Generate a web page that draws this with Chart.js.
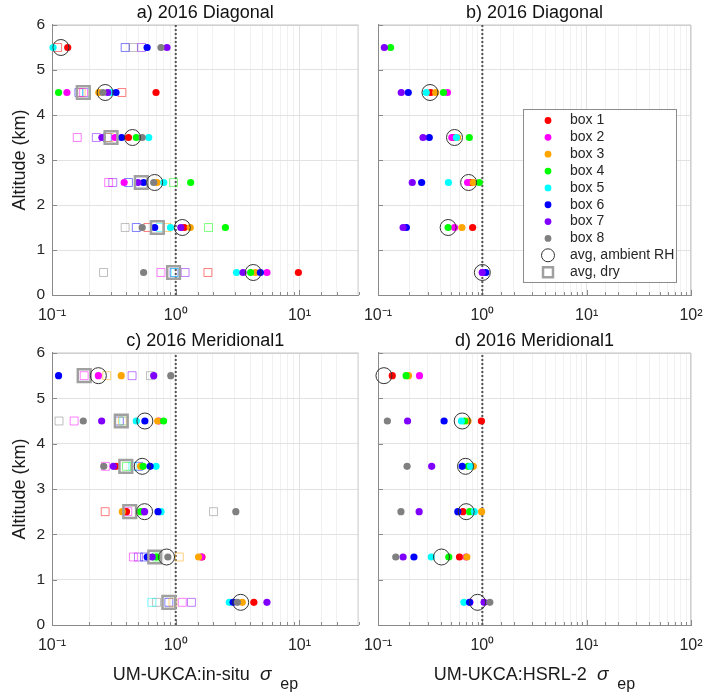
<!DOCTYPE html>
<html>
<head>
<meta charset="utf-8">
<script src="https://cdn.jsdelivr.net/npm/chart.js@4.4.1/dist/chart.umd.min.js"></script>
<style>
  body { margin: 0; background: #fff; overflow: hidden; }
  #wrap { position: relative; width: 705px; height: 696px; overflow: hidden; font-family: "Liberation Sans", Arial, sans-serif; color: #1a1a1a; }
  canvas { position: absolute; }
  .xlab { position: absolute; top: 662px; font-size: 18px; line-height: 24px; text-align: center; white-space: nowrap; }
  .sig { font-style: italic; font-size: 19px; margin-left: 10px; }
  .sub { font-size: 16px; position: relative; top: 9px; margin-left: 9px; }
</style>
</head>
<body>
<div id="wrap">
  <canvas id="pa" width="370" height="330" style="left:0;top:0"></canvas>
  <canvas id="pb" width="353" height="330" style="left:358px;top:0"></canvas>
  <canvas id="pc" width="370" height="332" style="left:0;top:328px"></canvas>
  <canvas id="pd" width="353" height="332" style="left:358px;top:328px"></canvas>
  <div class="xlab" style="left:50px;width:311px">UM-UKCA:in-situ<span class="sig">σ</span><span class="sub">ep</span></div>
  <div class="xlab" style="left:378px;width:313px">UM-UKCA:HSRL-2<span class="sig">σ</span><span class="sub">ep</span></div>
</div>
<script>
Chart.defaults.font.family = '"Liberation Sans", Arial, Helvetica, sans-serif';
Chart.defaults.color = '#262626';
Chart.defaults.animation = false;

const levels = [0.5, 1.5, 2.5, 3.5, 4.5, 5.5];
const boxLabels = ['box 1', 'box 2', 'box 3', 'box 4', 'box 5', 'box 6', 'box 7', 'box 8'];
const boxColors = ['#ff0000', '#ff00ff', '#ffa500', '#00ff00', '#00ffff', '#0000ff', '#8000ff', '#808080'];
const dryColors = ['rgba(255,0,0,0.5)', 'rgba(255,0,255,0.5)', 'rgba(255,165,0,0.5)', 'rgba(0,255,0,0.5)',
  'rgba(0,255,255,0.5)', 'rgba(0,0,255,0.5)', 'rgba(128,0,255,0.5)', 'rgba(128,128,128,0.5)'];
const avgLabels = ['avg, ambient RH', 'avg, dry'];
const expLabels = { '-1': '⁻¹', '0': '⁰', '1': '¹', '2': '²' };

// rows = box 1..8, columns = altitude levels 0.5 .. 5.5 km
// a) 2016 Diagonal, in-situ
const diagInsitu = [
  [9.8, 1.17, null, 0.415, 0.693, 0.134],
  [5.46, null, 0.383, 0.323, 0.132, null],
  [4.41, 1.31, 0.706, null, 0.239, null],
  [4.03, 2.52, 1.32, 0.48, 0.113, null],
  [3.10, 0.907, 0.80, 0.605, 0.30, 0.102],
  [4.83, 0.676, 0.55, 0.365, 0.329, 0.587],
  [3.50, 1.10, 0.495, 0.253, 0.282, 0.85],
  [0.55, 0.536, 0.664, 0.536, 0.258, 0.76],
];
const diagInsituDry = [
  [1.82, 0.595, null, null, 0.367, 0.111],
  [0.76, null, 0.287, 0.16, 0.18, null],
  [null, 0.85, null, 0.29, 0.172, null],
  [null, 1.84, 0.96, null, null, null],
  [0.99, 0.75, null, null, 0.19, null],
  [0.97, 0.48, 0.415, 0.28, 0.165, 0.39],
  [1.19, null, 0.31, 0.228, null, 0.53],
  [0.261, 0.39, null, null, null, 0.455],
];
const diagInsituAvg = [4.23, 1.13, 0.676, 0.447, 0.269, 0.118];
const diagInsituAvgDry = [0.96, 0.71, 0.527, 0.30, 0.179, null];

// b) 2016 Diagonal, HSRL-2
const diagHsrl = [
  [null, 0.807, 0.78, 0.525, 0.32, null],
  [1.0, 0.541, 0.722, 0.51, 0.463, null],
  [null, 0.637, 0.819, 0.578, 0.357, null],
  [null, 0.47, 0.935, 0.75, 0.424, 0.132],
  [null, null, 0.473, 0.565, 0.29, null],
  [1.08, 0.187, 0.262, 0.31, 0.195, null],
  [1.0, 0.174, 0.213, 0.27, 0.167, 0.115],
  [null, null, null, null, null, null],
];
const diagHsrlAvg = [1.0, 0.47, 0.739, 0.541, 0.315, null];

// c) 2016 Meridional1, in-situ
const meridInsitu = [
  [4.28, 1.63, 0.40, 0.329, null, null],
  [null, 1.61, 0.55, null, 0.73, 0.237],
  [3.45, 1.53, 0.37, 0.52, 0.715, 0.363],
  [null, 0.70, 0.52, 0.545, 0.798, null],
  [2.71, null, 0.76, 0.693, 0.48, null],
  [2.91, 0.588, 0.719, 0.621, 0.563, 0.113],
  [5.46, 0.645, 0.56, 0.313, 0.252, 0.664],
  [3.15, 0.864, 3.06, 0.262, 0.179, 0.912],
];
const meridInsituDry = [
  [null, null, 0.269, null, null, null],
  [1.13, 0.455, 0.41, 0.27, 0.151, 0.182],
  [0.95, 1.07, null, null, 0.37, 0.277],
  [null, 0.70, null, 0.40, null, null],
  [0.64, null, null, 0.45, 0.38, null],
  [0.88, 0.56, null, 0.50, 0.35, null],
  [1.34, 0.50, null, null, null, 0.444],
  [0.70, null, 2.02, null, 0.114, 0.625],
];
const meridInsituAvg = [3.35, 0.843, 0.56, 0.536, 0.563, 0.237];
const meridInsituAvgDry = [0.88, 0.677, 0.425, 0.395, 0.363, 0.182];

// d) 2016 Meridional1, HSRL-2
const meridHsrl = [
  [null, 0.604, 0.651, null, 0.98, 0.137],
  [0.76, 0.70, null, null, null, 0.25],
  [null, 0.71, 0.985, 0.82, 0.73, 0.196],
  [null, 0.477, 0.755, 0.73, 0.675, 0.186],
  [0.666, 0.324, 0.837, 0.77, 0.63, null],
  [0.755, 0.221, 0.582, 0.641, 0.43, null],
  [1.04, 0.174, 0.248, 0.327, 0.192, null],
  [1.18, 0.148, 0.166, 0.19, 0.123, null],
];
const meridHsrlAvg = [0.90, 0.406, 0.70, 0.69, 0.641, 0.114];

const isDecade = v => Math.abs(Math.log10(v) - Math.round(Math.log10(v))) < 1e-6;
const pts = vals => levels.map((y, i) => ({ x: vals[i], y })).filter(p => p.x != null);

// top/right box edges and MATLAB-style inward ticks
const frame = {
  id: 'frame',
  beforeDatasetsDraw(chart) {
    const { ctx, chartArea: a, scales: { x, y } } = chart;
    ctx.save();
    ctx.lineWidth = 1;
    ctx.strokeStyle = '#cfcfcf';
    ctx.beginPath();
    ctx.moveTo(a.left, a.top + 0.5);
    ctx.lineTo(a.right, a.top + 0.5);
    ctx.moveTo(a.right - 0.5, a.top);
    ctx.lineTo(a.right - 0.5, a.bottom);
    ctx.stroke();
    ctx.strokeStyle = '#8a8a8a';
    ctx.beginPath();
    x.ticks.forEach(t => {
      const px = Math.round(x.getPixelForValue(t.value)) + 0.5;
      const len = isDecade(t.value) ? 5 : 3;
      ctx.moveTo(px, a.bottom);
      ctx.lineTo(px, a.bottom - len);
    });
    y.ticks.forEach(t => {
      const py = Math.round(y.getPixelForValue(t.value)) + 0.5;
      ctx.moveTo(a.left, py);
      ctx.lineTo(a.left + 5, py);
    });
    ctx.stroke();
    ctx.restore();
  },
};

const legendBox = {
  id: 'legendBox',
  afterDraw(chart) {
    if (!chart.options.plugins.legendBox.show) return;
    const { ctx, chartArea: a } = chart;
    const x0 = a.left + 145, y0 = a.top + 84, w = 153, h = 173;
    ctx.save();
    ctx.fillStyle = '#fff';
    ctx.fillRect(x0, y0, w, h);
    ctx.strokeStyle = '#8c8c8c';
    ctx.lineWidth = 1;
    ctx.strokeRect(x0 + 0.5, y0 + 0.5, w, h);
    ctx.font = '14px "Liberation Sans", Arial, sans-serif';
    ctx.textBaseline = 'middle';
    const labels = boxLabels.concat(avgLabels);
    labels.forEach((label, i) => {
      const cy = y0 + 11.5 + i * 16.85, cx = x0 + 25;
      ctx.beginPath();
      if (i < 8) {
        ctx.fillStyle = boxColors[i];
        ctx.arc(cx, cy, 3.4, 0, Math.PI * 2);
        ctx.fill();
      } else if (i === 8) {
        ctx.strokeStyle = '#333';
        ctx.lineWidth = 1;
        ctx.arc(cx, cy, 6.5, 0, Math.PI * 2);
        ctx.stroke();
      } else {
        ctx.strokeStyle = '#a0a0a0';
        ctx.lineWidth = 2.5;
        ctx.rect(cx - 5, cy - 5, 10, 10);
        ctx.stroke();
      }
      ctx.fillStyle = '#262626';
      ctx.fillText(label, x0 + 47, cy);
    });
    ctx.restore();
  },
};

function makePanel(id, title, xMax, boxes, dry, avg, avgDry, opts) {
  const datasets = [{
    label: 'ratio 1',
    data: [{ x: 1, y: 0 }, { x: 1, y: 6 }],
    showLine: true,
    borderColor: '#555',
    borderWidth: 2,
    borderDash: [2, 2],
    pointRadius: 0,
    order: 30,
  }];
  if (dry) {
    dry.forEach((row, b) => datasets.push({
      label: boxLabels[b] + ', dry',
      data: pts(row),
      pointStyle: 'rect',
      pointRadius: 5.6,
      backgroundColor: 'rgba(0,0,0,0)',
      borderColor: dryColors[b],
      borderWidth: 1,
      order: 20,
      clip: false,
    }));
  }
  boxes.forEach((row, b) => datasets.push({
    label: boxLabels[b],
    data: pts(row),
    pointStyle: 'circle',
    pointRadius: 3.6,
    backgroundColor: boxColors[b],
    borderWidth: 0,
    order: 10 - b,
    clip: false,
  }));
  if (avgDry) {
    datasets.push({
      label: avgLabels[1],
      data: pts(avgDry),
      pointStyle: 'rect',
      pointRadius: 9,
      backgroundColor: 'rgba(0,0,0,0)',
      borderColor: '#a0a0a0',
      borderWidth: 2.5,
      order: 1,
      clip: false,
    });
  }
  datasets.push({
    label: avgLabels[0],
    data: pts(avg),
    pointStyle: 'circle',
    pointRadius: 8,
    backgroundColor: 'rgba(0,0,0,0)',
    borderColor: '#333',
    borderWidth: 1,
    order: 0,
    clip: false,
  });

  new Chart(document.getElementById(id), {
    type: 'scatter',
    data: { datasets },
    plugins: [frame, legendBox],
    options: {
      responsive: false,
      events: [],
      layout: { padding: { left: 0, right: opts.padRight, top: 0, bottom: 0 } },
      plugins: {
        legend: { display: false },
        tooltip: { enabled: false },
        legendBox: { show: !!opts.legend },
        title: {
          display: true,
          text: title,
          fullSize: false,
          color: '#111',
          font: { size: 18, weight: 'normal', lineHeight: 1.2 },
          padding: { top: 2, bottom: 1.4 },
        },
      },
      scales: {
        x: {
          type: 'logarithmic',
          min: 0.1,
          max: xMax,
          afterFit: s => { s.height = opts.xHeight; },
          grid: {
            drawTicks: true,
            tickLength: 9,
            tickColor: 'rgba(0,0,0,0)',
            color: c => (c.tick && isDecade(c.tick.value) ? '#e2e2e2' : '#f1f1f1'),
          },
          border: { color: '#8a8a8a', width: 1 },
          ticks: {
            autoSkip: false,
            maxRotation: 0,
            padding: 2,
            font: { size: 16 },
            color: '#262626',
            callback: v => (isDecade(v) ? '10' + expLabels[String(Math.round(Math.log10(v)))] : ''),
          },
        },
        y: {
          min: 0,
          max: 6,
          afterFit: s => { s.width = opts.yWidth; },
          grid: { drawTicks: false, color: '#e2e2e2' },
          border: { color: '#8a8a8a', width: 1 },
          ticks: { display: opts.yLabels, stepSize: 1, padding: 7, font: { size: 15.5 }, color: '#262626' },
          title: {
            display: opts.yLabels,
            text: 'Altitude (km)',
            color: '#1a1a1a',
            font: { size: 18 },
            padding: { top: 9, bottom: 0 },
          },
        },
      },
    },
  });
}

makePanel('pa', 'a) 2016 Diagonal', 30, diagInsitu, diagInsituDry, diagInsituAvg, diagInsituAvgDry,
  { padRight: 7, xHeight: 35, yWidth: 52, yLabels: true });
makePanel('pb', 'b) 2016 Diagonal', 100, diagHsrl, null, diagHsrlAvg, null,
  { padRight: 20, xHeight: 35, yWidth: 20, yLabels: false, legend: true });
makePanel('pc', 'c) 2016 Meridional1', 30, meridInsitu, meridInsituDry, meridInsituAvg, meridInsituAvgDry,
  { padRight: 7, xHeight: 35, yWidth: 52, yLabels: true });
makePanel('pd', 'd) 2016 Meridional1', 100, meridHsrl, null, meridHsrlAvg, null,
  { padRight: 20, xHeight: 35, yWidth: 20, yLabels: false });
</script>
</body>
</html>
